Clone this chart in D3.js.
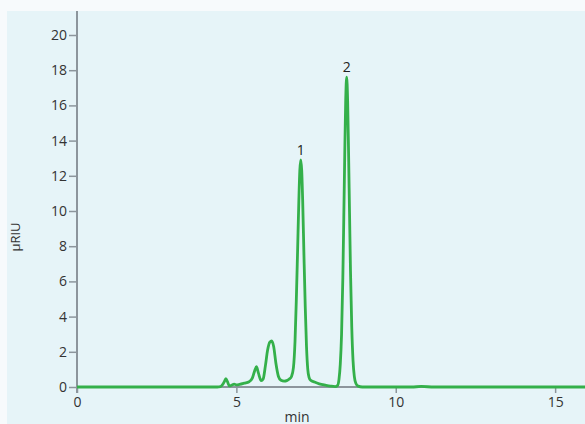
<!DOCTYPE html>
<html><head><meta charset="utf-8">
<script src="https://cdn.jsdelivr.net/npm/d3@7"></script>
<style>
html,body{margin:0;padding:0;background:#f7fafc;}
svg{display:block;}
svg text{font-family:"Open Sans","Noto Sans",sans-serif !important;}
</style></head>
<body><svg id="c" width="585" height="424"></svg>
<script>
const times = [0,1,2,3,4,4.4,4.5,4.56,4.62,4.67,4.72,4.78,4.85,4.93,5.0,5.1,5.25,5.4,5.5,5.57,5.63,5.69,5.78,5.84,5.91,5.98,6.05,6.11,6.17,6.24,6.32,6.4,6.5,6.58,6.66,6.73,6.79,6.84,6.88,6.92,6.96,6.99,7.02,7.05,7.08,7.12,7.16,7.2,7.24,7.28,7.33,7.45,7.6,7.8,7.95,8.1,8.18,8.22,8.26,8.3,8.34,8.37,8.4,8.43,8.46,8.49,8.52,8.55,8.58,8.62,8.66,8.7,8.75,8.82,8.95,9.5,10.5,10.8,11.2,13,15,16];
const signal = [0,0,0,0,0,0,0.02,0.12,0.3,0.47,0.3,0.06,0.1,0.16,0.12,0.15,0.22,0.3,0.5,0.9,1.15,0.8,0.36,0.45,1.2,2.1,2.55,2.62,2.3,1.35,0.6,0.38,0.33,0.36,0.45,0.6,1.1,2.6,4.9,7.7,10.6,12.3,12.9,12.3,10.6,7.5,4.6,2.3,1.0,0.55,0.38,0.28,0.18,0.1,0.05,0.02,0.1,0.45,1.3,3.0,6.2,9.6,13.2,16.3,17.6,16.3,13.3,9.9,6.6,3.4,1.5,0.6,0.2,0.05,0,0,0,0.03,0,0,0,0];
const yTicks = [0,2,4,6,8,10,12,14,16,18,20];
const xTicks = [0,5,10,15];
const peakLabels = ["1","2"];
const peakTimes = [7.02,8.46];
const peakHeights = [12.9,17.6];

const svg = d3.select("#c");
svg.append("rect").attr("x",7).attr("y",11).attr("width",578).attr("height",413).attr("fill","#e6f4f8");

const x = d3.scaleLinear().domain([0,16]).range([77,587]);
const y = d3.scaleLinear().domain([0,20]).range([387,35]);
const axisCol = "#8c959c";

// y axis
const ya = svg.append("g").attr("transform","translate(77,0)")
  .call(d3.axisLeft(y).tickValues(yTicks).tickSize(8).tickPadding(2).tickFormat(d3.format("d")));
ya.attr("font-size",null).attr("font-family",null);
ya.select(".domain").remove();
ya.selectAll(".tick line").attr("stroke",axisCol).attr("stroke-width",1.5);
ya.selectAll("text").style("font-size","14px").attr("fill","#333");
svg.append("line").attr("x1",77).attr("x2",77).attr("y1",11).attr("y2",393).attr("stroke",axisCol).attr("stroke-width",2);

// x axis
const xa = svg.append("g").attr("transform","translate(0,387)")
  .call(d3.axisBottom(x).tickValues(xTicks).tickSize(6).tickPadding(4).tickFormat(d3.format("d")));
xa.attr("font-size",null).attr("font-family",null);
xa.select(".domain").remove();
xa.selectAll(".tick line").attr("stroke",axisCol).attr("stroke-width",1.5);
xa.selectAll("text").style("font-size","14px").attr("fill","#333");
svg.append("line").attr("x1",77).attr("x2",585).attr("y1",387).attr("y2",387).attr("stroke",axisCol).attr("stroke-width",2);

// line
const line = d3.line().x((d,i)=>x(times[i])).y(d=>y(d)).curve(d3.curveMonotoneX);
svg.append("path").datum(signal).attr("d",line).attr("fill","none")
  .attr("stroke","#34b04a").attr("stroke-width",2.8).attr("stroke-linejoin","round");

// peak labels
svg.selectAll("text.pk").data(peakLabels).enter().append("text").attr("class","pk")
  .attr("x",(d,i)=>x(peakTimes[i])).attr("y",(d,i)=>y(peakHeights[i])-5)
  .attr("text-anchor","middle").style("font-size","14px").attr("fill","#222").text(d=>d);

// titles
svg.append("text").attr("x",297).attr("y",422).attr("text-anchor","middle").style("font-size","14px").attr("fill","#333").text("min");
svg.append("text").attr("transform","translate(20,237) rotate(-90)").attr("text-anchor","middle").style("font-size","13px").attr("fill","#333").text("μRIU");
</script></body></html>
